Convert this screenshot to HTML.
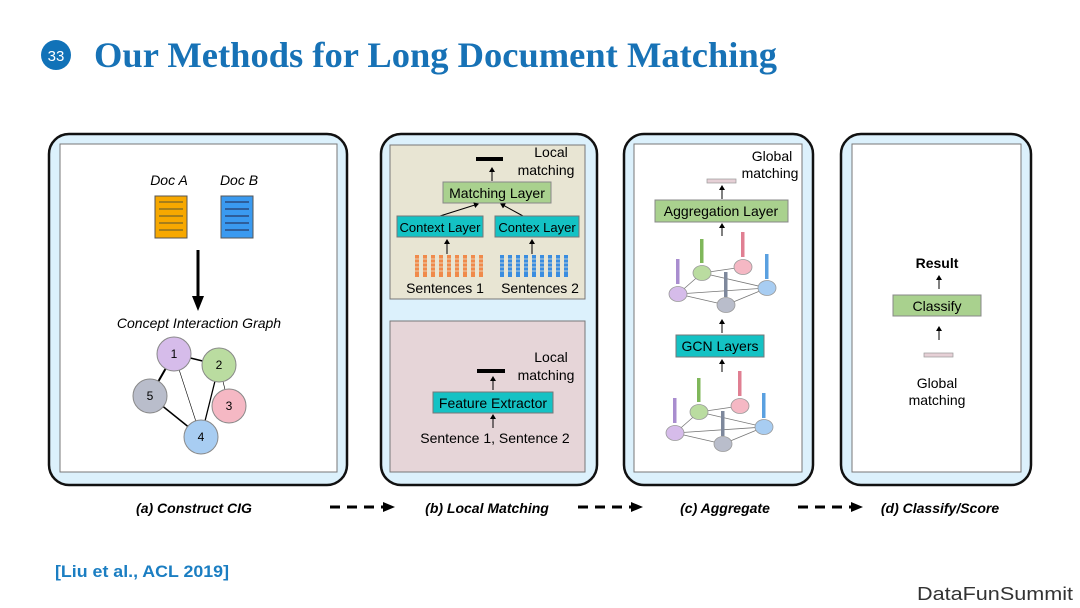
<!DOCTYPE html>
<html><head><meta charset="utf-8"><style>
html,body{margin:0;padding:0;background:#fff;}
svg{display:block;}
text{font-family:"Liberation Sans",sans-serif;}
</style></head><body>
<svg width="1080" height="608" viewBox="0 0 1080 608" xmlns="http://www.w3.org/2000/svg">
<defs>
<marker id="sa" markerWidth="5" markerHeight="6" refX="4" refY="3" orient="auto" markerUnits="userSpaceOnUse"><path d="M0,0 L5,3 L0,6 z" fill="#000"/></marker>
</defs>
<circle cx="56" cy="55" r="15" fill="#1172b8"/>
<text x="56" y="61" font-size="15" fill="#fff" text-anchor="middle">33</text>
<text x="94" y="67" font-weight="bold" font-size="36" fill="#1772b6" textLength="683" lengthAdjust="spacingAndGlyphs" style="font-family:'Liberation Serif',serif">Our Methods for Long Document Matching</text>

<rect x="49" y="134" width="298" height="351" rx="20" fill="#dcf1fc" stroke="#111" stroke-width="2.5"/>
<rect x="60" y="144" width="277" height="328" fill="#fff" stroke="#777" stroke-width="1"/>
<rect x="381" y="134" width="216" height="351" rx="20" fill="#dcf1fc" stroke="#111" stroke-width="2.5"/>
<rect x="390" y="145" width="195" height="154" fill="#e8e5d3" stroke="#777" stroke-width="1"/>
<rect x="390" y="321" width="195" height="151" fill="#e6d5d8" stroke="#777" stroke-width="1"/>
<rect x="624" y="134" width="189" height="351" rx="20" fill="#dcf1fc" stroke="#111" stroke-width="2.5"/>
<rect x="634" y="144" width="168" height="328" fill="#fff" stroke="#777" stroke-width="1"/>
<rect x="841" y="134" width="190" height="351" rx="20" fill="#dcf1fc" stroke="#111" stroke-width="2.5"/>
<rect x="852" y="144" width="169" height="328" fill="#fff" stroke="#777" stroke-width="1"/>

<text x="169" y="185" font-size="14" font-style="italic" text-anchor="middle">Doc A</text>
<text x="239" y="185" font-size="14" font-style="italic" text-anchor="middle">Doc B</text>
<rect x="155" y="196" width="32" height="42" fill="#f7a800" stroke="#555"/>
<g stroke="#553" stroke-width="1"><line x1="159" y1="202" x2="183" y2="202"/><line x1="159" y1="209" x2="183" y2="209"/><line x1="159" y1="216" x2="183" y2="216"/><line x1="159" y1="223" x2="183" y2="223"/><line x1="159" y1="230" x2="183" y2="230"/></g>
<rect x="221" y="196" width="32" height="42" fill="#3a9af0" stroke="#555"/>
<g stroke="#224" stroke-width="1"><line x1="225" y1="202" x2="249" y2="202"/><line x1="225" y1="209" x2="249" y2="209"/><line x1="225" y1="216" x2="249" y2="216"/><line x1="225" y1="223" x2="249" y2="223"/><line x1="225" y1="230" x2="249" y2="230"/></g>
<line x1="198" y1="250" x2="198" y2="297" stroke="#000" stroke-width="3"/>
<path d="M192,296 L204,296 L198,311 z" fill="#000"/>
<text x="199" y="328" font-size="14" font-style="italic" text-anchor="middle">Concept Interaction Graph</text>
<g stroke="#000">
<line x1="174" y1="354" x2="219" y2="365" stroke-width="1.5"/>
<line x1="174" y1="354" x2="150" y2="396" stroke-width="2"/>
<line x1="174" y1="354" x2="201" y2="437" stroke-width="0.6"/>
<line x1="219" y1="365" x2="201" y2="437" stroke-width="1.3"/>
<line x1="219" y1="365" x2="229" y2="406" stroke-width="0.6"/>
<line x1="150" y1="396" x2="201" y2="437" stroke-width="1.5"/>
</g>
<g stroke="#888" stroke-width="1">
<circle cx="174" cy="354" r="17" fill="#d6bcea"/>
<circle cx="219" cy="365" r="17" fill="#badca0"/>
<circle cx="229" cy="406" r="17" fill="#f5b8c4"/>
<circle cx="150" cy="396" r="17" fill="#b9bdcb"/>
<circle cx="201" cy="437" r="17" fill="#a8cdf2"/>
</g>
<g font-size="12" text-anchor="middle"><text x="174" y="358">1</text><text x="219" y="369">2</text><text x="229" y="410">3</text><text x="150" y="400">5</text><text x="201" y="441">4</text></g>

<rect x="476" y="157" width="27" height="4" fill="#000"/>
<text x="551" y="157" font-size="14" text-anchor="middle">Local</text>
<text x="546" y="175" font-size="14" text-anchor="middle">matching</text>
<line x1="492" y1="181" x2="492" y2="168" stroke="#000" marker-end="url(#sa)"/>
<rect x="443" y="182" width="108" height="21" fill="#a9d18e" stroke="#888"/>
<text x="497" y="198" font-size="14" text-anchor="middle">Matching Layer</text>
<line x1="440" y1="216" x2="478" y2="204" stroke="#000" marker-end="url(#sa)"/>
<line x1="523" y1="216" x2="501" y2="204" stroke="#000" marker-end="url(#sa)"/>
<rect x="397" y="216" width="86" height="21" fill="#14c2c4" stroke="#777"/>
<text x="440" y="232" font-size="13" text-anchor="middle">Context Layer</text>
<rect x="495" y="216" width="84" height="21" fill="#14c2c4" stroke="#777"/>
<text x="537" y="232" font-size="13" text-anchor="middle">Contex Layer</text>
<line x1="447" y1="254" x2="447" y2="240" stroke="#000" marker-end="url(#sa)"/>
<line x1="532" y1="254" x2="532" y2="240" stroke="#000" marker-end="url(#sa)"/>
<g fill="#f08a4b">
<rect x="415" y="255" width="4" height="22"/><rect x="423" y="255" width="4" height="22"/><rect x="431" y="255" width="4" height="22"/><rect x="439" y="255" width="4" height="22"/><rect x="447" y="255" width="4" height="22"/><rect x="455" y="255" width="4" height="22"/><rect x="463" y="255" width="4" height="22"/><rect x="471" y="255" width="4" height="22"/><rect x="479" y="255" width="4" height="22"/>
</g>
<g fill="#3a8de0">
<rect x="500" y="255" width="4" height="22"/><rect x="508" y="255" width="4" height="22"/><rect x="516" y="255" width="4" height="22"/><rect x="524" y="255" width="4" height="22"/><rect x="532" y="255" width="4" height="22"/><rect x="540" y="255" width="4" height="22"/><rect x="548" y="255" width="4" height="22"/><rect x="556" y="255" width="4" height="22"/><rect x="564" y="255" width="4" height="22"/>
</g>
<g stroke="#e8e5d3" stroke-width="0.8"><line x1="412" y1="259" x2="572" y2="259"/><line x1="412" y1="263" x2="572" y2="263"/><line x1="412" y1="267" x2="572" y2="267"/><line x1="412" y1="271" x2="572" y2="271"/></g>
<text x="445" y="293" font-size="14" text-anchor="middle">Sentences 1</text>
<text x="540" y="293" font-size="14" text-anchor="middle">Sentences 2</text>

<rect x="477" y="369" width="28" height="4" fill="#000"/>
<text x="551" y="362" font-size="14" text-anchor="middle">Local</text>
<text x="546" y="380" font-size="14" text-anchor="middle">matching</text>
<line x1="493" y1="390" x2="493" y2="377" stroke="#000" marker-end="url(#sa)"/>
<rect x="433" y="392" width="120" height="21" fill="#14c2c4" stroke="#777"/>
<text x="493" y="408" font-size="14" text-anchor="middle">Feature Extractor</text>
<line x1="493" y1="428" x2="493" y2="415" stroke="#000" marker-end="url(#sa)"/>
<text x="495" y="443" font-size="14" text-anchor="middle">Sentence 1, Sentence 2</text>

<text x="772" y="161" font-size="14" text-anchor="middle">Global</text>
<text x="770" y="178" font-size="14" text-anchor="middle">matching</text>
<rect x="707" y="179" width="29" height="4" fill="#e6d0d6" stroke="#999" stroke-width="0.7"/>
<line x1="722" y1="199" x2="722" y2="186" stroke="#000" marker-end="url(#sa)"/>
<rect x="655" y="200" width="133" height="22" fill="#a9d18e" stroke="#888"/>
<text x="721" y="216" font-size="14" text-anchor="middle">Aggregation Layer</text>
<line x1="722" y1="236" x2="722" y2="224" stroke="#000" marker-end="url(#sa)"/>
<g id="g1">
<g stroke="#777" stroke-width="0.8">
<line x1="678" y1="294" x2="702" y2="273"/><line x1="702" y1="273" x2="743" y2="267"/><line x1="702" y1="273" x2="767" y2="288"/><line x1="678" y1="294" x2="767" y2="288"/><line x1="678" y1="294" x2="726" y2="305"/><line x1="726" y1="305" x2="767" y2="288"/>
</g>
<g stroke="#999" stroke-width="0.8">
<ellipse cx="678" cy="294" rx="9" ry="7.5" fill="#d6bcea"/>
<ellipse cx="702" cy="273" rx="9" ry="7.5" fill="#badca0"/>
<ellipse cx="743" cy="267" rx="9" ry="7.5" fill="#f5b8c4"/>
<ellipse cx="767" cy="288" rx="9" ry="7.5" fill="#a8cdf2"/>
<ellipse cx="726" cy="305" rx="9" ry="7.5" fill="#b9bdcb"/>
</g>
<rect x="676" y="259" width="3.5" height="25" fill="#a98dcf"/>
<rect x="700" y="239" width="3.5" height="24" fill="#7fb75a"/>
<rect x="741" y="232" width="3.5" height="25" fill="#e07f92"/>
<rect x="765" y="254" width="3.5" height="25" fill="#5aa0e0"/>
<rect x="724" y="272" width="3.5" height="25" fill="#7e889c"/>
</g>
<use href="#g1" transform="translate(-3,139)"/>
<line x1="722" y1="333" x2="722" y2="320" stroke="#000" marker-end="url(#sa)"/>
<rect x="676" y="335" width="88" height="22" fill="#14c2c4" stroke="#777"/>
<text x="720" y="351" font-size="14" text-anchor="middle">GCN Layers</text>
<line x1="722" y1="372" x2="722" y2="360" stroke="#000" marker-end="url(#sa)"/>

<text x="937" y="268" font-size="14" font-weight="bold" text-anchor="middle">Result</text>
<line x1="939" y1="289" x2="939" y2="276" stroke="#000" marker-end="url(#sa)"/>
<rect x="893" y="295" width="88" height="21" fill="#a9d18e" stroke="#888"/>
<text x="937" y="311" font-size="14" text-anchor="middle">Classify</text>
<line x1="939" y1="340" x2="939" y2="327" stroke="#000" marker-end="url(#sa)"/>
<rect x="924" y="353" width="29" height="4" fill="#e6d0d6" stroke="#999" stroke-width="0.7"/>
<text x="937" y="388" font-size="14" text-anchor="middle">Global</text>
<text x="937" y="405" font-size="14" text-anchor="middle">matching</text>

<g font-size="14" font-weight="bold" font-style="italic" text-anchor="middle">
<text x="194" y="513">(a) Construct CIG</text>
<text x="487" y="513">(b) Local Matching</text>
<text x="725" y="513">(c) Aggregate</text>
<text x="940" y="513">(d) Classify/Score</text>
</g>
<g stroke="#000" stroke-width="3" stroke-dasharray="10,7">
<line x1="330" y1="507" x2="383" y2="507"/>
<line x1="578" y1="507" x2="631" y2="507"/>
<line x1="798" y1="507" x2="851" y2="507"/>
</g>
<path d="M383,502 L395,507 L383,512 z"/><path d="M631,502 L643,507 L631,512 z"/><path d="M851,502 L863,507 L851,512 z"/>

<text x="55" y="577" font-size="17" font-weight="bold" fill="#1b7ec2" textLength="174" lengthAdjust="spacingAndGlyphs">[Liu et al., ACL 2019]</text>
<text x="917" y="600" font-size="18" fill="#333" textLength="156" lengthAdjust="spacingAndGlyphs">DataFunSummit</text>
</svg>
</body></html>
